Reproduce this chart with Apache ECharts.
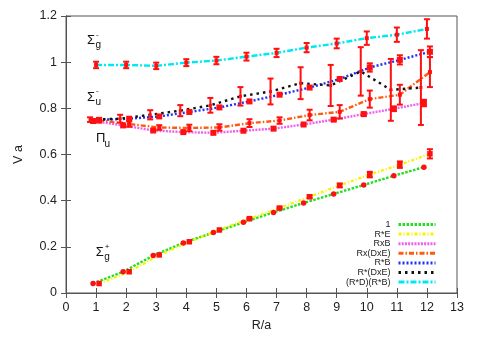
<!DOCTYPE html>
<html><head><meta charset="utf-8">
<script src="https://cdn.jsdelivr.net/npm/echarts@6/dist/echarts.min.js"></script>
<style>html,body{margin:0;padding:0;background:#fff}#c{width:482px;height:337px}</style>
</head><body><div id="c"></div>
<script>
// ---- data ----
const seriesNames = ['1', 'R*E', 'RxB', 'Rx(DxE)', 'R*B', 'R*(DxE)', '(R*D)(R*B)'];

const xOne = [0.9, 1.9, 2.9, 3.9, 4.9, 5.9, 6.9, 7.9, 8.9, 9.9, 10.9, 11.9];
const yOne = [0.041, 0.092, 0.162, 0.217, 0.262, 0.306, 0.349, 0.390, 0.429, 0.468, 0.508, 0.545];
const eOne = [0, 0, 0, 0, 0, 0, 0, 0, 0, 0, 0, 0];

const xRE = [1.1, 2.1, 3.1, 4.1, 5.1, 6.1, 7.1, 8.1, 9.1, 10.1, 11.1, 12.1];
const yRE = [0.041, 0.092, 0.165, 0.222, 0.273, 0.322, 0.368, 0.417, 0.466, 0.513, 0.556, 0.603];
const eRE = [0, 0, 0, 0, 0, 0.004, 0.005, 0.006, 0.008, 0.012, 0.014, 0.02];

const xRxB = [0.9, 1.9, 2.9, 3.9, 4.9, 5.9, 6.9, 7.9, 8.9, 9.9, 10.9, 11.9];
const yRxB = [0.745, 0.726, 0.704, 0.697, 0.694, 0.703, 0.712, 0.730, 0.751, 0.775, 0.798, 0.823];
const eRxB = [0, 0, 0, 0, 0, 0, 0, 0, 0.004, 0.006, 0.01, 0.014];

const xRDE = [1.1, 2.1, 3.1, 4.1, 5.1, 6.1, 7.1, 8.1, 9.1, 10.1, 11.1, 12.1];
const yRDE = [0.748, 0.732, 0.717, 0.715, 0.717, 0.736, 0.747, 0.771, 0.785, 0.840, 0.859, 0.957];
const eRDE = [0.01, 0.012, 0.01, 0.014, 0.014, 0.017, 0.014, 0.023, 0.029, 0.037, 0.043, 0.065];

const xRB = [1.1, 2.1, 3.1, 4.1, 5.1, 6.1, 7.1, 8.1, 9.1, 10.1, 11.1, 12.1];
const yRB = [0.750, 0.755, 0.765, 0.784, 0.804, 0.830, 0.859, 0.890, 0.927, 0.977, 1.010, 1.045];
const eRB = [0, 0, 0, 0, 0, 0, 0, 0, 0, 0.018, 0.02, 0.023];

const xRsDE = [0.8, 1.8, 2.8, 3.8, 4.8, 5.8, 6.8, 7.8, 8.8, 9.8, 10.8, 11.8];
const yRsDE = [0.751, 0.755, 0.772, 0.790, 0.813, 0.852, 0.873, 0.909, 0.899, 0.960, 0.880, 0.890];
const eRsDE = [0.01, 0.017, 0.02, 0.024, 0.032, 0.04, 0.056, 0.069, 0.089, 0.105, 0.134, 0.162];

const xRDRB = [1, 2, 3, 4, 5, 6, 7, 8, 9, 10, 11, 12];
const yRDRB = [0.988, 0.988, 0.984, 0.998, 1.007, 1.024, 1.040, 1.063, 1.081, 1.104, 1.119, 1.144];
const eRDRB = [0.014, 0.014, 0.014, 0.015, 0.016, 0.017, 0.018, 0.02, 0.021, 0.029, 0.031, 0.042];

const xTicksMin = 0, xTicksMax = 13, xTickStep = 1;
const yTicksMin = 0, yTicksMax = 1.2, yTickStep = 0.2;

// annotation labels: [main, sub, sup, x, y]
const annotations = [
  ['Σ', 'g', '-', 0.70, 1.093],
  ['Σ', 'u', '-', 0.70, 0.848],
  ['Π', 'u', '', 1.00, 0.668],
  ['Σ', 'g', '+', 0.99, 0.175]
];

// ---- styles ----
const FONT = 'Liberation Sans, Arial, sans-serif';
const styles = [
  { color: '#22dd22', dash: [2.5, 1.5], marker: 'circle', size: 5.5 },
  { color: '#f5f500', dash: [3, 2, 1, 2], marker: 'rect', size: 5.5 },
  { color: '#f060f0', dash: [2, 1.2], marker: 'rect', size: 6 },
  { color: '#ff5a10', dash: [5, 2, 1.5, 2], marker: 'rect', size: 4 },
  { color: '#2030ff', dash: [2, 2], marker: 'rect', size: 6 },
  { color: '#111111', dash: [2.5, 4], marker: 'rect', size: 3 },
  { color: '#00e8f0', dash: [6, 2, 2, 2], marker: 'rect', size: 4 }
];
const xs = [xOne, xRE, xRxB, xRDE, xRB, xRsDE, xRDRB];
const ys = [yOne, yRE, yRxB, yRDE, yRB, yRsDE, yRDRB];
const es = [eOne, eRE, eRxB, eRDE, eRB, eRsDE, eRDRB];

const series = [];
seriesNames.forEach((n, k) => {
  series.push({
    name: n, type: 'line', xAxisIndex: 0, yAxisIndex: 0,
    data: xs[k].map((x, i) => [x, ys[k][i]]),
    symbol: 'none', smooth: false, z: 3,
    lineStyle: { color: styles[k].color, width: 2.4, type: styles[k].dash },
    itemStyle: { color: styles[k].color },
    emphasis: { disabled: true }
  });
});
seriesNames.forEach((n, k) => {
  const st = styles[k];
  series.push({
    type: 'custom', xAxisIndex: 0, yAxisIndex: 0, z: 6, silent: true,
    encode: { x: 0, y: 1 },
    data: xs[k].map((x, i) => [x, ys[k][i], es[k][i]]),
    renderItem(params, api) {
      const x = api.value(0), y = api.value(1), e = api.value(2);
      const p = api.coord([x, y]);
      const ch = [];
      const red = '#ff1010';
      if (e > 0) {
        const t = api.coord([x, y + e]), b = api.coord([x, y - e]);
        ch.push({ type: 'line', shape: { x1: p[0], y1: t[1], x2: p[0], y2: b[1] }, style: { stroke: red, lineWidth: 2 } });
        ch.push({ type: 'line', shape: { x1: p[0] - 3, y1: t[1], x2: p[0] + 3, y2: t[1] }, style: { stroke: red, lineWidth: 2 } });
        ch.push({ type: 'line', shape: { x1: p[0] - 3, y1: b[1], x2: p[0] + 3, y2: b[1] }, style: { stroke: red, lineWidth: 2 } });
      }
      if (st.marker === 'circle') {
        ch.push({ type: 'circle', shape: { cx: p[0], cy: p[1], r: st.size / 2 }, style: { fill: red } });
      } else {
        ch.push({ type: 'rect', shape: { x: p[0] - st.size / 2, y: p[1] - st.size / 2, width: st.size, height: st.size }, style: { fill: red } });
      }
      return { type: 'group', children: ch };
    }
  });
});

const axisLineStyle = { color: '#555', width: 1 };
const chart = echarts.init(document.getElementById('c'), null, { renderer: 'canvas' });
chart.setOption({
  animation: false,
  backgroundColor: '#fff',
  grid: { left: 66, right: 25, top: 16, bottom: 44, show: true, borderColor: '#555', borderWidth: 1, outerBoundsMode: 'none' },
  xAxis: [
    { type: 'value', min: xTicksMin, max: xTicksMax, interval: xTickStep, position: 'bottom',
      name: 'R/a', nameLocation: 'middle', nameGap: 25,
      nameTextStyle: { fontFamily: FONT, fontSize: 12.5, color: '#222' },
      axisLine: { show: true, lineStyle: axisLineStyle },
      axisTick: { show: true, inside: true, length: 5, lineStyle: axisLineStyle },
      axisLabel: { fontFamily: FONT, fontSize: 12.5, color: '#222', margin: 8 },
      splitLine: { show: false } },
    { type: 'value', min: xTicksMin, max: xTicksMax, interval: xTickStep, position: 'top',
      axisLine: { show: true, lineStyle: axisLineStyle },
      axisTick: { show: true, inside: true, length: 5, lineStyle: axisLineStyle },
      axisLabel: { show: false }, splitLine: { show: false } }
  ],
  yAxis: [
    { type: 'value', min: yTicksMin, max: yTicksMax, interval: yTickStep, position: 'left',
      name: 'V a', nameLocation: 'middle', nameGap: 41,
      nameTextStyle: { fontFamily: FONT, fontSize: 12.5, color: '#222' },
      axisLine: { show: true, lineStyle: axisLineStyle },
      axisTick: { show: true, inside: true, length: 5, lineStyle: axisLineStyle },
      axisLabel: { fontFamily: FONT, fontSize: 12.5, color: '#222', margin: 9,
        formatter: v => String(Math.round(v * 10) / 10) },
      splitLine: { show: false } },
    { type: 'value', min: yTicksMin, max: yTicksMax, interval: yTickStep, position: 'right',
      axisLine: { show: true, lineStyle: axisLineStyle },
      axisTick: { show: true, inside: true, length: 5, lineStyle: axisLineStyle },
      axisLabel: { show: false }, splitLine: { show: false } }
  ],
  legend: {
    data: seriesNames, orient: 'vertical', right: 40, top: 215, align: 'right',
    itemWidth: 37, itemHeight: 10, itemGap: 0.6, selectedMode: false,
    itemStyle: { opacity: 0, borderWidth: 0 },
    lineStyle: { width: 3 },
    textStyle: { fontFamily: FONT, fontSize: 9, color: '#222', padding: [0, 3, 0, 0] }
  },
  series: series
});

// annotations placed at data coordinates
const g = [];
annotations.forEach(a => {
  const p = chart.convertToPixel({ xAxisIndex: 0, yAxisIndex: 0 }, [a[3], a[4]]);
  g.push({ type: 'text', x: p[0], y: p[1], style: { text: a[0], font: '13px ' + FONT, fill: '#111', align: 'left', verticalAlign: 'middle' }, z: 10 });
  g.push({ type: 'text', x: p[0] + 8.5, y: p[1] + 5, style: { text: a[1], font: '10px ' + FONT, fill: '#111', align: 'left', verticalAlign: 'middle' }, z: 10 });
  if (a[2]) g.push({ type: 'text', x: p[0] + 9, y: p[1] - 6, style: { text: a[2], font: '8px ' + FONT, fill: '#111', align: 'left', verticalAlign: 'middle' }, z: 10 });
});
chart.setOption({ graphic: g });
</script>
</body></html>
